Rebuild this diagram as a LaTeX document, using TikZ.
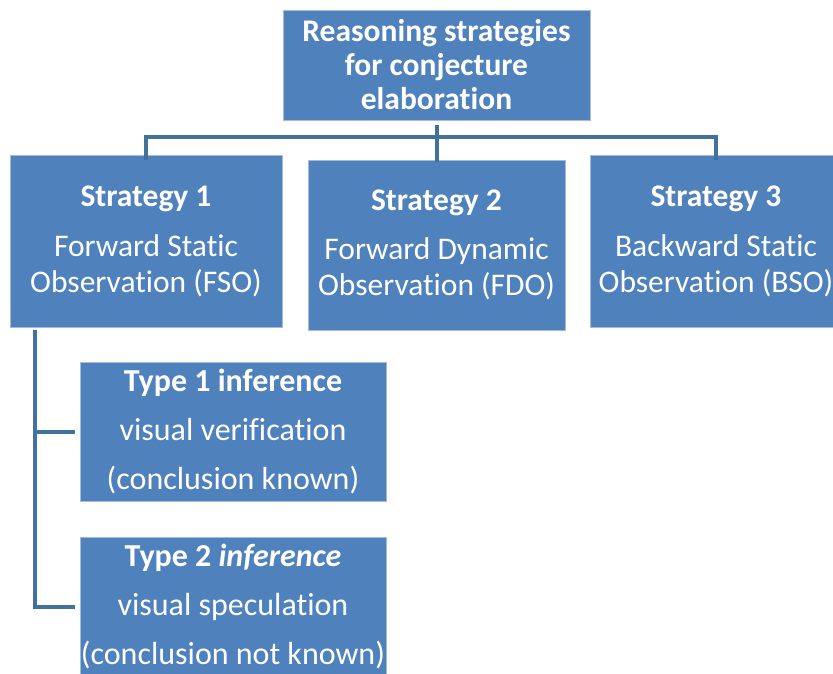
\documentclass[tikz,border=0pt]{standalone}
\usepackage{fontspec}
\setmainfont{Carlito}[Ligatures=NoCommon]
\usepackage{tikz}

\definecolor{boxblue}{HTML}{4F81BD}
\definecolor{lineblue}{HTML}{41719C}
\definecolor{edgeblue}{HTML}{A3BCDB}

\begin{document}
\begin{tikzpicture}[x=1pt, y=1pt,
    box/.style={fill=boxblue, draw=edgeblue, line width=0.8pt, text=white,
        align=center, inner sep=0pt},
    conn/.style={draw=lineblue, line width=4pt}]
    % page frame
    \useasboundingbox (0,0) rectangle (833,-673);
    \clip (0,0) rectangle (833,-673);

    % top box
    \node[box, minimum width=307, minimum height=110,
        font=\fontsize{31.5}{34}\selectfont\bfseries] (root) at (436.5,-65)
        {Reasoning strategies\\for conjecture\\elaboration};

    % strategies
    \node[box, minimum width=272, minimum height=172,
        font=\fontsize{31.5}{36}\selectfont] (s1) at (146,-241)
        {\textbf{Strategy 1}\\[14pt]Forward Static\\Observation (FSO)};
    \node[box, minimum width=257, minimum height=170,
        font=\fontsize{31.5}{36}\selectfont] (s2) at (436.5,-245)
        {\textbf{Strategy 2}\\[13pt]Forward Dynamic\\Observation (FDO)};
    \node[box, minimum width=252, minimum height=172,
        font=\fontsize{31.5}{36}\selectfont] (s3) at (716,-241)
        {\textbf{Strategy 3}\\[14pt]Backward Static\\Observation (BSO)};

    % inference types
    \node[box, minimum width=306, minimum height=139,
        font=\fontsize{32}{49}\selectfont] (t1) at (233,-431.5)
        {\textbf{Type 1 inference}\\visual verification\\(conclusion known)};
    \node[box, minimum width=306, minimum height=139,
        font=\fontsize{32}{49}\selectfont] (t2) at (233,-606.5)
        {\textbf{Type 2 \textit{inference}}\\visual speculation\\(conclusion not known)};

    % bracket under the top box
    \coordinate (bar) at (436.5,-137);
    \draw[conn] ([yshift=-5pt]root.south) -- ([yshift=-2pt]s2.north);
    \draw[conn] ([yshift=-5pt]s1.north) |- (bar) -| ([yshift=-5pt]s3.north);

    % branches to the inference types
    \coordinate (trunk) at ([xshift=-111pt]s1.south);
    \draw[conn] ([yshift=-3pt]trunk) |- ([xshift=-5pt]t2.west);
    \draw[conn] (trunk |- t1.west) -- ([xshift=-5pt]t1.west);
\end{tikzpicture}
\end{document}
